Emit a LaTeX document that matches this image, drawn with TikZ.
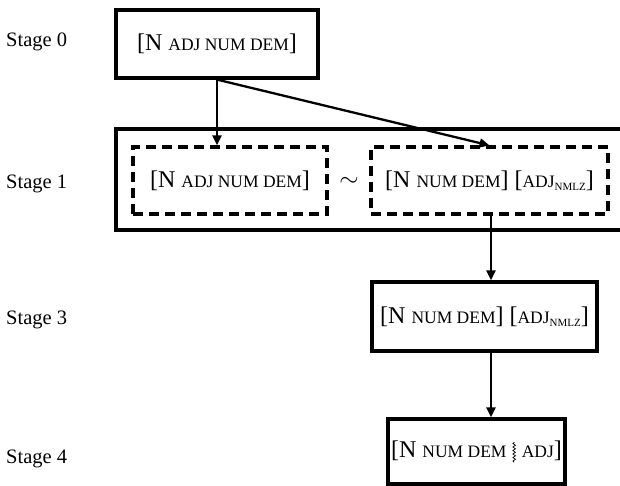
\documentclass[tikz,border=0pt]{standalone}
\usepackage{fontspec}
\setmainfont{Liberation Serif}
\usetikzlibrary{arrows.meta,decorations.pathmorphing}

\newcommand{\smc}[1]{{\fontsize{17.5}{20}\selectfont #1}}
\newcommand{\nmlz}{\raisebox{-3pt}{\fontsize{11}{12}\selectfont NMLZ}}
\newcommand{\wavebar}{\tikz[baseline=0pt]\draw[line width=0.7pt,decorate,decoration={snake,amplitude=1.3pt,segment length=3.5pt}] (0pt,-5pt) -- (0pt,15pt);}

\tikzset{
  box/.style={draw,line width=3.2pt,inner sep=0pt,font=\fontsize{24}{28}\selectfont},
  dashbox/.style={box,dash pattern=on 10pt off 6pt},
  link/.style={line width=2.3pt,-{Triangle[length=10pt,width=9pt]}},
  stagelabel/.style={anchor=west,inner sep=0pt,font=\fontsize{20.5}{23}\selectfont}
}

\begin{document}
\begin{tikzpicture}[x=1pt,y=-1pt]
 \clip (0,0) rectangle (620,486);
 % stage labels
 \node[stagelabel] (l0) at (6,42) {Stage 0};
 \node[stagelabel] (l1) at (6,184) {Stage 1};
 \node[stagelabel] (l3) at (6,320) {Stage 3};
 \node[stagelabel] (l4) at (6,459) {Stage 4};
 % boxes
 \node[box,minimum width=202pt,minimum height=68pt] (s0) at (217,44) {[N \smc{ADJ NUM DEM}]};
 \node[box,minimum width=514pt,minimum height=101pt] (s1) at (373,179.5) {};
 \node[dashbox,minimum width=194pt,minimum height=67pt] (d1) at (230,180.5) {[N \smc{ADJ NUM DEM}]};
 \node[dashbox,minimum width=237pt,minimum height=67pt] (d2) at (489.5,180.5) {[N \smc{NUM DEM}] [\smc{ADJ}\nmlz]};
 \node[font=\fontsize{24}{28}\selectfont,inner sep=0pt] (tl) at (349,182) {$\sim$};
 \node[box,minimum width=225pt,minimum height=69pt] (s3) at (484.5,316.5) {[N \smc{NUM DEM}] [\smc{ADJ}\nmlz]};
 \node[box,minimum width=177pt,minimum height=65pt] (s4) at (476.5,451.5) {[N \smc{NUM DEM} \wavebar\ \smc{ADJ}]};
 \coordinate (c) at (491,0);
 % connectors
 \draw[link] (s0.south) -- (s0.south |- d1.north);
 \draw[link] (s0.south) -- (d2.north);
 \draw[link] (d2.south -| c) -- (s3.north -| c);
 \draw[link] (s3.south -| c) -- (s4.north -| c);
\end{tikzpicture}
\end{document}
